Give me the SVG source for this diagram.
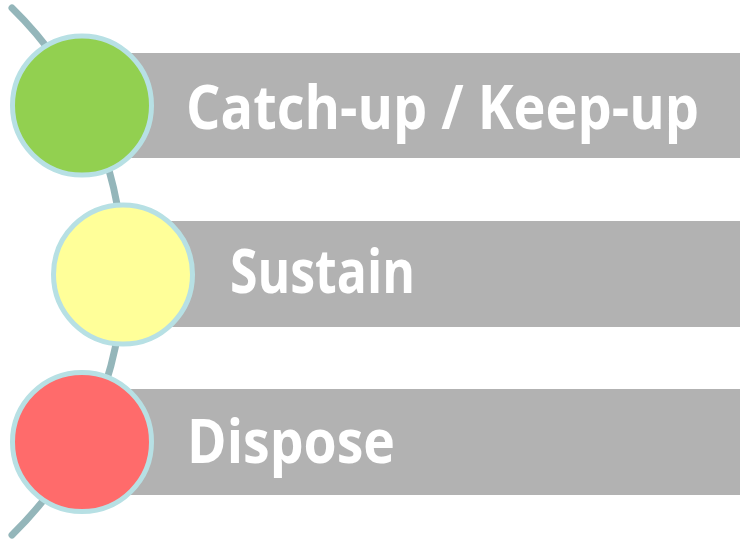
<svg xmlns="http://www.w3.org/2000/svg" width="740" height="542" viewBox="0 0 740 542">
  <style>
    .bar { fill: #B2B2B2; }
    .dot { stroke: #B7E0E4; stroke-width: 5; }
    .lbl { fill: #FFFFFF; font-family: "Open Sans", "Noto Sans", "Liberation Sans", sans-serif; font-weight: bold; font-size: 60px; }
    .arc { fill: none; stroke: #94B6BA; stroke-width: 7; stroke-linecap: round; }
  </style>
  <rect width="740" height="542" fill="#FFFFFF"/>
  <g id="connectors">
    <path class="arc" d="M 12 8 A 368 368 0 0 1 12 535"/>
  </g>
  <g id="node-catchup">
    <rect class="bar" x="82" y="53" width="658" height="105"/>
    <circle class="dot" cx="82" cy="105.5" r="69.5" fill="#92D050"/>
    <text class="lbl" x="186" y="129" textLength="513" lengthAdjust="spacingAndGlyphs">Catch-up / Keep-up</text>
  </g>
  <g id="node-sustain">
    <rect class="bar" x="123" y="221" width="617" height="106"/>
    <circle class="dot" cx="123" cy="274.5" r="69.5" fill="#FFFF99"/>
    <text class="lbl" x="230" y="293" textLength="185" lengthAdjust="spacingAndGlyphs">Sustain</text>
  </g>
  <g id="node-dispose">
    <rect class="bar" x="82" y="389" width="658" height="106"/>
    <circle class="dot" cx="82" cy="442" r="69.5" fill="#FF6B6B"/>
    <text class="lbl" x="187" y="463" textLength="208" lengthAdjust="spacingAndGlyphs">Dispose</text>
  </g>
</svg>
